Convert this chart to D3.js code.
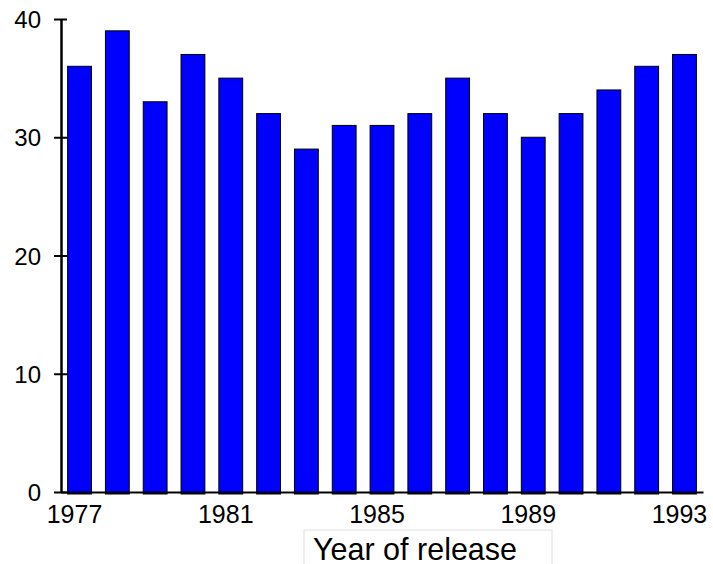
<!DOCTYPE html>
<html>
<head>
<meta charset="utf-8">
<script src="https://cdn.jsdelivr.net/npm/d3@7"></script>
<style>
  body { margin: 0; background: #fff; }
  svg { display: block; font-family: "Liberation Sans", Arial, sans-serif; }
</style>
</head>
<body>
<div id="chart"></div>
<script>
const years = d3.range(1977, 1994).map(String);
const counts = [36, 39, 33, 37, 35, 32, 29, 31, 31, 32, 35, 32, 30, 32, 34, 36, 37];
const yTicks = [0, 10, 20, 30, 40];
const xTickLabels = ["1977", "1981", "1985", "1989", "1993"];
const xTitle = "Year of release";

const width = 713;
const height = 564;
const plot = { left: 61, right: 703, top: 19, bottom: 492 };

const svg = d3
  .select("#chart")
  .append("svg")
  .attr("width", width)
  .attr("height", height);

const xScale = d3
  .scaleBand()
  .domain(years)
  .range([plot.left, plot.right])
  .paddingInner(0.37)
  .paddingOuter(0.175);

const yScale = d3.scaleLinear().domain([0, 40]).range([plot.bottom, plot.top]);

// bars
svg
  .append("g")
  .selectAll("rect")
  .data(years)
  .enter()
  .append("rect")
  .attr("x", (d) => xScale(d))
  .attr("y", (d, i) => yScale(counts[i]))
  .attr("width", xScale.bandwidth())
  .attr("height", (d, i) => yScale(0) - yScale(counts[i]) + 2)
  .attr("fill", "#0000ff")
  .attr("stroke", "#000")
  .attr("stroke-width", 1);

// y axis, ticks cross the line
const yAxis = svg
  .append("g")
  .attr("transform", `translate(${plot.left},0)`)
  .call(d3.axisLeft(yScale).tickValues(yTicks).tickSizeOuter(0).tickSizeInner(7).tickPadding(13));
yAxis.selectAll(".tick line").attr("x1", 6).attr("stroke-width", 2);
yAxis.select(".domain").attr("stroke-width", 2.5);
yAxis.selectAll("text").attr("font-size", 24).attr("fill", "#000").attr("dy", "0.36em");

// x axis
const xAxis = svg
  .append("g")
  .attr("transform", `translate(0,${plot.bottom})`)
  .call(d3.axisBottom(xScale).tickValues(xTickLabels).tickSize(0).tickPadding(13));
xAxis.select(".domain").attr("stroke-width", 2);
xAxis.selectAll("text").attr("font-size", 25).attr("fill", "#000").attr("dx", -5).attr("dy", "0.72em");

// axis title in a box
const box = { x: 304, y: 530, w: 248, h: 40 };
svg
  .append("rect")
  .attr("x", box.x)
  .attr("y", box.y)
  .attr("width", box.w)
  .attr("height", box.h)
  .attr("fill", "none")
  .attr("stroke", "#e0e0e0")
  .attr("stroke-width", 1);
svg
  .append("text")
  .attr("x", box.x + 9)
  .attr("y", 560)
  .attr("font-size", 30.5)
  .attr("fill", "#000")
  .text(xTitle);
</script>
</body>
</html>
